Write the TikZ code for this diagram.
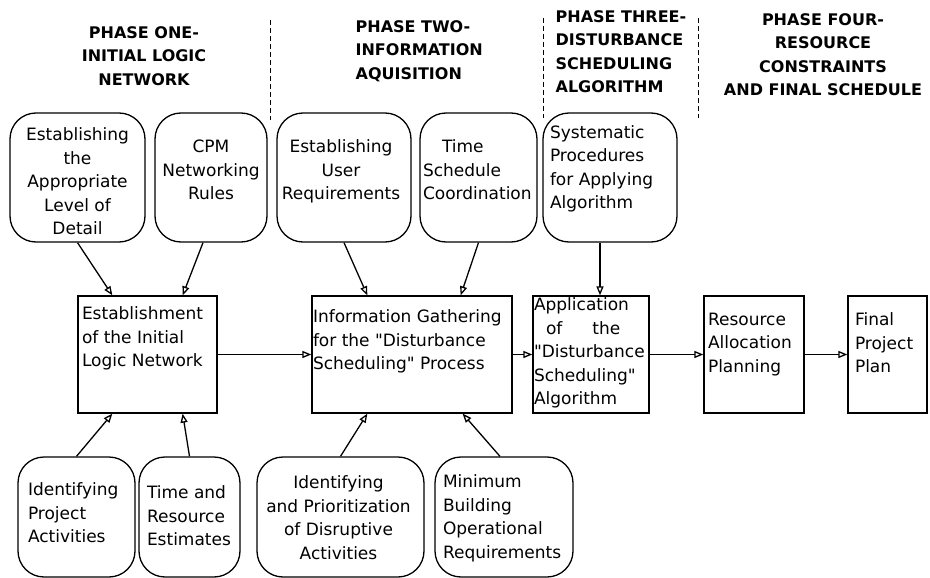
\documentclass[tikz,border=0pt]{standalone}
\usepackage{fontspec}
\setmainfont{DejaVu Sans}
\usepackage{tikz}
\usetikzlibrary{calc,positioning,arrows.meta}
\tikzset{
  ->,
  >={Triangle[open,length=9pt,width=7pt]},
  roundnode/.style args={#1,#2}{
  draw=black,
  rounded corners=26pt,
  minimum width=#1pt,
  minimum height=#2pt,
  },
  squarenode/.style args={#1,#2}{
  draw=black,
  minimum width=#1pt,
  minimum height=#2pt,
  },
  boxtext/.style={inner sep=0pt,align=left,font=\fontsize{17}{23.5}\selectfont},
  phasetext/.style={inner sep=0pt,font=\fontsize{16}{23.3}\selectfont\bfseries},
  phaseline/.style={-,dash pattern=on 5pt off 3pt,line width=1pt}
}
\begin{document}
\begin{tikzpicture}[x=1pt,y=-1pt,line width=1.3pt]
\useasboundingbox (0,0) rectangle (930,578);

  % phase titles
  \node [phasetext,align=center,anchor=north] (ph1) at (144,26) {PHASE ONE-\\INITIAL LOGIC\\NETWORK};
  \node [phasetext,align=left,anchor=north west] (ph2) at (355,20) {PHASE TWO-\\INFORMATION\\AQUISITION};
  \node [phasetext,align=left,anchor=north west] (ph3) at (555,10) {PHASE THREE-\\DISTURBANCE\\SCHEDULING\\ALGORITHM};
  \node [phasetext,align=center,anchor=north] (ph4) at (823,13) {PHASE FOUR-\\RESOURCE\\CONSTRAINTS\\AND FINAL SCHEDULE};
  \draw [phaseline] (270,20) -- (270,120);
  \draw [phaseline] (543,18) -- (543,118);
  \draw [phaseline] (698,18) -- (698,118);

  % top row
  \node [roundnode={135,129}] (det) at (77.5,177.5) {};
  \node [roundnode={112,129}] (cpm) at (211,177.5) {};
  \node [roundnode={134,129}] (usr) at (344,177.5) {};
  \node [roundnode={117,129}] (tsc) at (478.5,177.5) {};
  \node [roundnode={134,129}] (sys) at (610,177.5) {};
  \node [boxtext,align=center,below=15pt of det.north] (det-t) {Establishing\\the\\Appropriate\\Level of\\Detail};
  \node [boxtext,align=center,below=27pt of cpm.north] (cpm-t) {CPM\\Networking\\Rules};
  \node [boxtext,align=center,below=27pt of usr.north,xshift=-3pt] (usr-t) {Establishing\\User\\Requirements};
  \node [boxtext,below right=27pt and 3pt of tsc.north west] (tsc-t) {\hspace*{19pt}Time\\Schedule\\Coordination};
  \node [boxtext,below right=12.5pt and 7pt of sys.north west] (sys-t) {Systematic\\Procedures\\for Applying\\Algorithm};

  % main row
  \node [squarenode={139,117}] (est) at (147.5,354.5) {};
  \node [squarenode={200,117}] (inf) at (412,354.5) {};
  \node [squarenode={116,117}] (app) at (591,354.5) {};
  \node [squarenode={100,117}] (res) at (754,354.5) {};
  \node [squarenode={79,117}] (fin) at (887.5,354.5) {};
  \node [boxtext,below right=11pt and 4pt of est.north west] (est-t) {Establishment\\of the Initial\\Logic Network};
  \node [boxtext,below right=14pt and 1pt of inf.north west] (inf-t) {Information Gathering\\for the \textquotedbl Disturbance\\Scheduling\textquotedbl{} Process};
  \node [boxtext,below right=2pt and 1pt of app.north west] (app-t) {Application\\\hspace*{12pt}of\hspace{30pt}the\\\textquotedbl Disturbance\\Scheduling\textquotedbl\\Algorithm};
  \node [boxtext,below right=17pt and 4pt of res.north west] (res-t) {Resource\\Allocation\\Planning};
  \node [boxtext,below right=17pt and 7pt of fin.north west] (fin-t) {Final\\Project\\Plan};

  % bottom row
  \node [roundnode={117,120}] (act) at (76.5,517) {};
  \node [roundnode={101,120}] (tre) at (189.5,517) {};
  \node [roundnode={167,120}] (dis) at (340.5,517) {};
  \node [roundnode={138,120}] (min) at (504,517) {};
  \node [boxtext,below right=26pt and 10pt of act.north west] (act-t) {Identifying\\Project\\Activities};
  \node [boxtext,below right=29pt and 8pt of tre.north west] (tre-t) {Time and\\Resource\\Estimates};
  \node [boxtext,align=center,below=19pt of dis.north,xshift=-2pt] (dis-t) {Identifying\\and Prioritization\\of Disruptive\\Activities};
  \node [boxtext,below right=18pt and 8pt of min.north west] (min-t) {Minimum\\Building\\Operational\\Requirements};

  % inputs
  \draw (det.south) -- ($(est.north west)+(35,0)$);
  \draw ($(cpm.south)+(-8,0)$) -- ($(est.north east)+(-35,0)$);
  \draw (usr.south) -- ($(inf.north west)+(56,0)$);
  \draw (tsc.south) -- ($(inf.north east)+(-52,0)$);
  \draw ($(sys.south)+(-10,0)$) -- ($(app.north)+(9,0)$);
  \draw (act.north) -- ($(est.south west)+(35,0)$);
  \draw (tre.north) -- ($(est.south east)+(-35,0)$);
  \draw (dis.north) -- ($(inf.south west)+(56,0)$);
  \draw ($(min.north)+(-4,0)$) -- ($(inf.south east)+(-50,0)$);

  % flow
  \draw (est) -- (inf);
  \draw (inf) -- (app);
  \draw (app) -- (res);
  \draw (res) -- (fin);

\end{tikzpicture}
\end{document}
